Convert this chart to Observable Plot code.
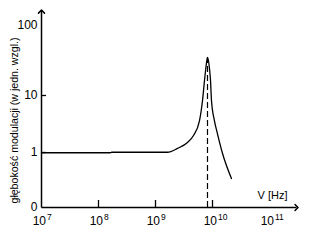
<!DOCTYPE html>
<html>
<head>
<meta charset="utf-8">
<script src="https://cdn.jsdelivr.net/npm/d3@7"></script>
<script src="https://cdn.jsdelivr.net/npm/@observablehq/plot@0.6"></script>
<style>
  html, body { margin: 0; padding: 0; background: #fff; }
  svg { display: block; }
</style>
</head>
<body>
<div id="chart"></div>
<script>
// Frequency ticks (decades) and their exponent labels
const xTickVals = [1e7, 1e8, 1e9, 1e10, 1e11];
const xTickExps = ["7", "8", "9", "10", "11"];
const xTickMarks = [1e8, 1e9, 1e10];
// Modulation-depth ticks
const yTickVals = [0.1, 1, 10, 100];
const yTickLabels = ["0", "1", "10", "100"];
const yTickMarks = [1, 10];
// Curve: frequency [Hz] and relative modulation depth
const freq  = [1e7, 1.62e8, 1.7e8, 1.62e9, 2.43e9, 3.64e9, 4.64e9, 5.92e9, 6.68e9, 7.24e9, 7.63e9, 8.17e9, 8.85e9, 9.23e9, 9.6e9, 1.08e10, 1.22e10, 1.5e10, 2.15e10];
const depth = [0.99, 0.99, 1.01, 1.01, 1.18, 1.5, 1.99, 3.64, 8.17, 16.4, 24.3, 34.9, 24.3, 16.4, 8.17, 3.64, 2.15, 0.96, 0.337];
// Resonance marker
const resonanceFreq = [8.17e9];
const resonancePeak = 34.9;
// Axis extents (arrow tips beyond the last labelled decade)
const xAxisStart = 1e7;
const yAxisStart = 0.1;
const xAxisEnd = 2.98e11;
const yAxisEnd = 158;
const yTitle = "głębokość modulacji (w jedn. wzgl.)";
const xTitle = "V [Hz]";

const curve = freq.map((f, i) => ({f, d: depth[i]}));
const font = "'Liberation Sans', Arial, sans-serif";

const chart = Plot.plot({
  width: 312,
  height: 241,
  marginLeft: 41,
  marginRight: 16,
  marginTop: 11,
  marginBottom: 34,
  style: {fontFamily: font, background: "#fff", color: "#000", overflow: "visible"},
  x: {type: "log", domain: [1e7, 1e11], range: [41, 269]},
  y: {type: "log", domain: [0.1, 1, 10, 100], range: [207, 152, 95, 25]},
  marks: [
    // axes lines with arrowheads
    Plot.link([0], {x1: () => xAxisStart, y1: () => yAxisStart, x2: () => xAxisEnd, y2: () => yAxisStart, stroke: "#000", strokeWidth: 1.5, markerEnd: "arrow"}),
    Plot.link([0], {x1: () => xAxisStart, y1: () => yAxisStart, x2: () => xAxisStart, y2: () => yAxisEnd, stroke: "#000", strokeWidth: 1.5, markerEnd: "arrow"}),
    // inward ticks
    Plot.axisX(xTickMarks, {tickSize: 7, dy: -7, tickFormat: () => "", label: null, stroke: "#000", strokeWidth: 1.3}),
    Plot.axisY(yTickMarks, {tickSize: 5, dx: 5, tickFormat: () => "", label: null, stroke: "#000", strokeWidth: 1.3}),
    // tick labels
    Plot.text(xTickVals, {x: d => d, y: () => 0.1, text: () => "10", textAnchor: "end", dx: 4.5, dy: 14, fontSize: 12, fill: "#000"}),
    Plot.text(xTickVals, {x: d => d, y: () => 0.1, text: (d, i) => xTickExps[i], textAnchor: "start", dx: 5.5, dy: 10, fontSize: 8.5, fill: "#000"}),
    Plot.text(yTickVals, {x: () => 1e7, y: d => d, text: (d, i) => yTickLabels[i], textAnchor: "end", dx: -4, fontSize: 12, fill: "#000"}),
    // titles
    Plot.text([yTitle], {frameAnchor: "left", textAnchor: "middle", rotate: -90, dx: -27, dy: 11, fontSize: 10.6, fill: "#000"}),
    Plot.text([xTitle], {frameAnchor: "bottom-right", textAnchor: "end", dx: -9, dy: -9, fontSize: 11, fill: "#000"}),
    // resonance dashed line
    Plot.ruleX(resonanceFreq, {y1: 0.1, y2: resonancePeak, stroke: "#000", strokeWidth: 1.2, strokeDasharray: "6,3"}),
    // curve
    Plot.line(curve, {x: "f", y: "d", curve: "monotone-x", stroke: "#000", strokeWidth: 1.3})
  ]
});
document.getElementById("chart").appendChild(chart);
</script>
</body>
</html>
